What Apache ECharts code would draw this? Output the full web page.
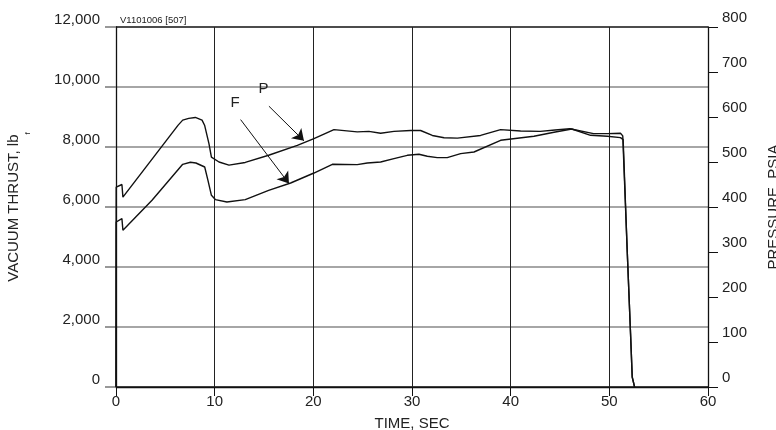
<!DOCTYPE html>
<html>
<head>
<meta charset="utf-8">
<script src="https://cdn.jsdelivr.net/npm/echarts@6/dist/echarts.min.js"></script>
<style>
html,body{margin:0;padding:0;background:#fff;overflow:hidden;width:100%;height:100%;}
#chart{width:776px;height:430px;overflow:hidden;}
</style>
</head>
<body>
<div id="chart"></div>
<script>
// ---- data ----
var timeTicks = [0, 10, 20, 30, 40, 50, 60];
var thrustTicks = [0, 2000, 4000, 6000, 8000, 10000, 12000];
var pressureTicks = [0, 100, 200, 300, 400, 500, 600, 700, 800];

// Chamber pressure P (psia, right axis)
var pTime = [0, 0.02, 0.6, 0.7, 6.3, 6.76, 7.37, 8.04, 8.72, 8.99, 9.42, 9.67, 10.44, 11.45, 13.1, 15.47, 18.38, 20.06, 22.09, 24.45, 25.63, 26.82, 28.17, 29.86, 30.87, 32.06, 33.25, 34.6, 36.95, 38.98, 41.01, 43.0, 44.5, 46.0, 48.4, 49.8, 51.13, 51.36, 51.81, 52.15, 52.32, 52.56];
var pPsia = [0, 444, 450, 422, 582, 593, 597, 599, 593, 581, 541, 511, 500, 493, 499, 515, 537, 552, 572, 567, 568, 564, 568, 570, 570, 559, 554, 553, 559, 572, 569, 568, 571, 574, 563, 563, 564, 558, 304, 119, 22, 0];

// Vacuum thrust F (lbf, left axis)
var fTime = [0, 0.02, 0.6, 0.7, 3.65, 6.76, 7.54, 8.1, 8.99, 9.32, 9.67, 10.07, 11.24, 13.1, 15.47, 17.7, 20.06, 21.93, 24.45, 25.47, 26.82, 28.17, 29.52, 30.7, 31.55, 32.56, 33.57, 34.93, 36.28, 38.98, 42.36, 44.39, 46.2, 48.1, 49.8, 51.13, 51.4, 51.81, 52.15, 52.32, 52.56];
var fLbf = [0, 5500, 5613, 5223, 6223, 7423, 7490, 7467, 7333, 6890, 6390, 6247, 6167, 6247, 6557, 6800, 7133, 7423, 7413, 7467, 7500, 7613, 7723, 7757, 7690, 7647, 7647, 7780, 7833, 8223, 8357, 8490, 8600, 8390, 8357, 8313, 8247, 4557, 1780, 333, 0];

// Annotations (data units): label position, arrow start, arrow tip
var pLabelAt = [14.96, 663];
var pArrow = [[15.5, 624], [19.05, 547]];
var fLabelAt = [12.08, 9457];
var fArrow = [[12.63, 8913], [17.53, 6780]];

var refCode = 'V1101006 [507]';

function pairs(xs, ys) {
  var out = [];
  for (var i = 0; i < xs.length; i++) out.push([xs[i], ys[i]]);
  return out;
}

var FONT = '"Liberation Sans", Arial, sans-serif';
var TXT = '#222';

var chart = echarts.init(document.getElementById('chart'), null, {renderer: 'canvas', width: 776, height: 430});

function annotation(label, at, arrow) {
  return {
    markPoint: {
      silent: true,
      symbol: 'circle',
      symbolSize: 1,
      itemStyle: {color: 'rgba(0,0,0,0)'},
      label: {show: true, position: 'inside', formatter: label, color: TXT, fontSize: 15, fontFamily: FONT},
      data: [{coord: at}]
    },
    markLine: {
      silent: true,
      symbol: ['none', 'arrow'],
      symbolSize: 11,
      label: {show: false},
      lineStyle: {color: '#111', width: 1, type: 'solid'},
      data: [[{coord: arrow[0]}, {coord: arrow[1]}]]
    }
  };
}

var pSeries = {
  name: 'P', type: 'line', yAxisIndex: 1, xAxisIndex: 0,
  data: pairs(pTime, pPsia), showSymbol: false, symbol: 'none',
  lineStyle: {color: '#111', width: 1.4}, itemStyle: {color: '#111'}, z: 5
};
Object.assign(pSeries, annotation('P', pLabelAt, pArrow));

var fSeries = {
  name: 'F', type: 'line', yAxisIndex: 0, xAxisIndex: 0,
  data: pairs(fTime, fLbf), showSymbol: false, symbol: 'none',
  lineStyle: {color: '#111', width: 1.4}, itemStyle: {color: '#111'}, z: 5
};
Object.assign(fSeries, annotation('F', fLabelAt, fArrow));

var option = {
  animation: false,
  backgroundColor: '#fff',
  title: {
    text: refCode, left: 115, top: 10,
    textStyle: {fontSize: 9.5, fontWeight: 'normal', color: TXT, fontFamily: FONT}
  },
  grid: {left: 116, right: 68, top: 27, bottom: 43, containLabel: false, outerBoundsMode: 'none'},
  xAxis: {
    type: 'value', min: timeTicks[0], max: timeTicks[timeTicks.length - 1], interval: timeTicks[1] - timeTicks[0],
    name: 'TIME, SEC', nameLocation: 'middle', nameGap: 29,
    nameTextStyle: {fontSize: 15, color: TXT, fontFamily: FONT},
    axisLine: {show: true, lineStyle: {color: '#111', width: 1.3}},
    axisTick: {show: true, inside: false, length: 9, lineStyle: {color: '#111', width: 1}},
    axisLabel: {margin: 7, fontSize: 15, color: TXT, fontFamily: FONT},
    splitLine: {show: true, lineStyle: {color: '#222', width: 1}}
  },
  yAxis: [{
    type: 'value', position: 'left', min: thrustTicks[0], max: thrustTicks[thrustTicks.length - 1], interval: thrustTicks[1] - thrustTicks[0],
    name: '{a|VACUUM THRUST, lb}{s|f}', nameLocation: 'middle', nameRotate: 90, nameGap: 84,
    nameTextStyle: {
      color: TXT, fontFamily: FONT,
      rich: {
        a: {fontSize: 15, color: TXT, fontFamily: FONT, lineHeight: 18, verticalAlign: 'top'},
        s: {fontSize: 8, color: TXT, fontFamily: FONT, lineHeight: 26, verticalAlign: 'bottom'}
      }
    },
    axisLine: {show: true, lineStyle: {color: '#111', width: 1.3}},
    axisTick: {show: true, inside: false, length: 11, lineStyle: {color: '#777', width: 1.5}},
    axisLabel: {
      margin: 16, fontSize: 15, color: TXT, fontFamily: FONT, verticalAlign: 'bottom',
      formatter: function (v) { return v.toLocaleString('en-US'); }
    },
    splitLine: {show: true, lineStyle: {color: ['#111', '#888', '#888', '#888', '#888', '#888', '#111'], width: 1.5}}
  }, {
    type: 'value', position: 'right', min: pressureTicks[0], max: pressureTicks[pressureTicks.length - 1], interval: pressureTicks[1] - pressureTicks[0],
    name: 'PRESSURE, PSIA', nameLocation: 'middle', nameRotate: 90, nameGap: 58,
    nameTextStyle: {fontSize: 15, color: TXT, fontFamily: FONT},
    axisLine: {show: true, lineStyle: {color: '#111', width: 1.3}},
    axisTick: {show: true, inside: false, length: 10, lineStyle: {color: '#111', width: 1}},
    axisLabel: {margin: 14, fontSize: 15, color: TXT, fontFamily: FONT, verticalAlign: 'bottom', padding: [0, 0, 2, 0]},
    splitLine: {show: false}
  }],
  series: [pSeries, fSeries]
};

chart.setOption(option);
</script>
</body>
</html>
